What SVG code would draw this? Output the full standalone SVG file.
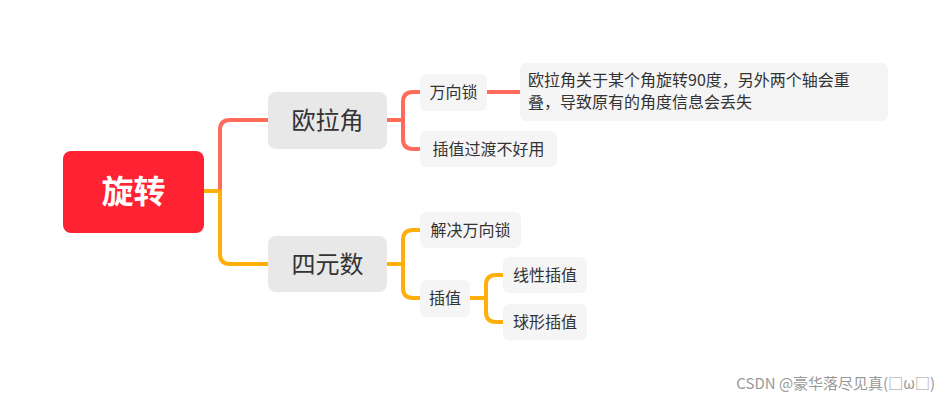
<svg xmlns="http://www.w3.org/2000/svg" width="951" height="403" viewBox="0 0 951 403">
<style>
text{font-family:"Noto Sans CJK SC","Noto Sans",sans-serif;fill:#333}
.l1{fill:#e8e8e8}
.l2{fill:#f5f5f5}
.r{fill:none;stroke:#ff6a5a;stroke-width:4;stroke-linecap:round}
.o{fill:none;stroke:#ffae0a;stroke-width:4;stroke-linecap:round}
.t2{font-size:24px}
.t3{font-size:16px}
</style>
<rect width="951" height="403" fill="#fff"/>
<g id="connectors">
<path class="o" d="M204 191 H220"/>
<path class="r" d="M220 191 V130 Q220 120 230 120 H268"/>
<path class="o" d="M220 191 V254 Q220 264 230 264 H268"/>
<path class="r" d="M387 120 H403 M403 120 V102 Q403 92 413 92 H420 M403 120 V139 Q403 149 413 149 H420"/>
<path class="r" d="M487 92 H520"/>
<path class="o" d="M387 264 H403 M403 264 V240 Q403 230 413 230 H420 M403 264 V288 Q403 298 413 298 H420"/>
<path class="o" d="M470 298 H486 M486 298 V285 Q486 275 496 275 H503 M486 298 V312 Q486 322 496 322 H503"/>
</g>
<g id="root"><rect x="63" y="151" width="141" height="82" rx="8" fill="#ff2233"/><text x="133.5" y="203" text-anchor="middle" font-size="32" font-weight="bold" style="fill:#fff">旋转</text></g>
<g id="n_euler"><rect class="l1" x="268" y="92" width="119" height="57" rx="8"/><text class="t2" x="327.5" y="129" text-anchor="middle">欧拉角</text></g>
<g id="n_quat"><rect class="l1" x="268" y="236" width="119" height="56" rx="8"/><text class="t2" x="327.5" y="273" text-anchor="middle">四元数</text></g>
<g id="n_gimbal"><rect class="l2" x="420" y="74" width="67" height="37" rx="6"/><text class="t3" x="453.5" y="98" text-anchor="middle">万向锁</text></g>
<g id="n_desc"><rect class="l2" x="520" y="63" width="368" height="58" rx="6"/><text class="t3" x="528" y="86">欧拉角关于某个角旋转90度，另外两个轴会重</text><text class="t3" x="528" y="108">叠，导致原有的角度信息会丢失</text></g>
<g id="n_interp1"><rect class="l2" x="420" y="131" width="137" height="36" rx="6"/><text class="t3" x="488.5" y="155" text-anchor="middle">插值过渡不好用</text></g>
<g id="n_solve"><rect class="l2" x="420" y="212" width="101" height="36" rx="6"/><text class="t3" x="470.5" y="236" text-anchor="middle">解决万向锁</text></g>
<g id="n_interp2"><rect class="l2" x="420" y="280" width="50" height="37" rx="6"/><text class="t3" x="445" y="304" text-anchor="middle">插值</text></g>
<g id="n_linear"><rect class="l2" x="503" y="257" width="84" height="36" rx="6"/><text class="t3" x="545" y="281" text-anchor="middle">线性插值</text></g>
<g id="n_sphere"><rect class="l2" x="503" y="304" width="84" height="36" rx="6"/><text class="t3" x="545" y="328" text-anchor="middle">球形插值</text></g>
<text x="935" y="389" text-anchor="end" font-size="15" style="fill:#999">CSDN @豪华落尽见真(□ω□)</text>
</svg>
